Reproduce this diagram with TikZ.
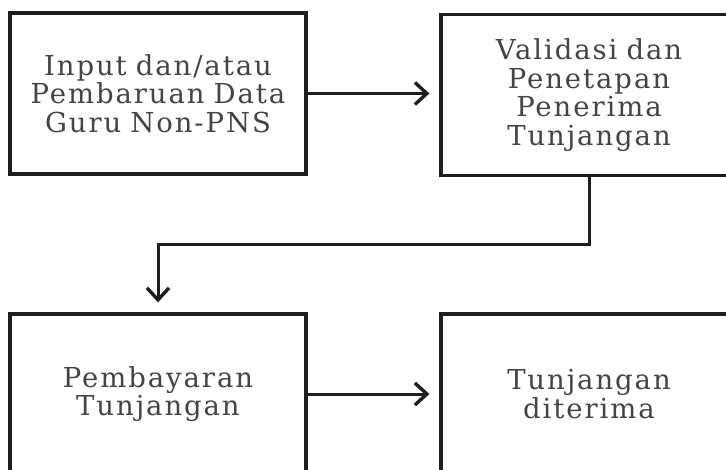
\documentclass[tikz,border=0pt]{standalone}
\usepackage{fontspec}
\setmainfont{DejaVu Serif}[WordSpace=0.85, LetterSpace=7]
\usetikzlibrary{arrows.meta}
\definecolor{txtgray}{HTML}{444444}
\definecolor{linegray}{HTML}{1E1E1E}
\tikzset{
  box/.style={draw=linegray, line width=3.2pt, minimum width=296pt, minimum height=161pt,
    align=center, inner sep=0pt, text=txtgray,
    font=\fontsize{27.5}{28.5}\selectfont},
  conn/.style={draw=linegray, line width=3pt, shorten >=10pt,
    -{Straight Barb[length=12pt,width=22pt,line width=3.4pt]}}
}
\begin{document}
\begin{tikzpicture}[x=1pt,y=-1pt]
\useasboundingbox (0,0) rectangle (726,469);
\clip (0,0) rectangle (726,469);
\fill[white] (0,0) rectangle (726,469);
\node[box] (A) at (158,93.5) {Input dan/atau\\Pembaruan Data\\Guru Non-PNS};
\node[box] (B) at (589,95) {Validasi dan\\Penetapan\\Penerima\\Tunjangan};
\node[box, minimum height=160pt] (C) at (158,394) {Pembayaran\\Tunjangan};
\node[box, minimum height=160pt] (D) at (589,394) {Tunjangan\\diterima};
\draw[conn] (A.east) -- (B.west |- A.east);
\draw[conn] (B.south) -- ++(0,67.5) coordinate (bend) -| (C.north);
\draw[conn] (C.east) -- (D.west);
\end{tikzpicture}
\end{document}
